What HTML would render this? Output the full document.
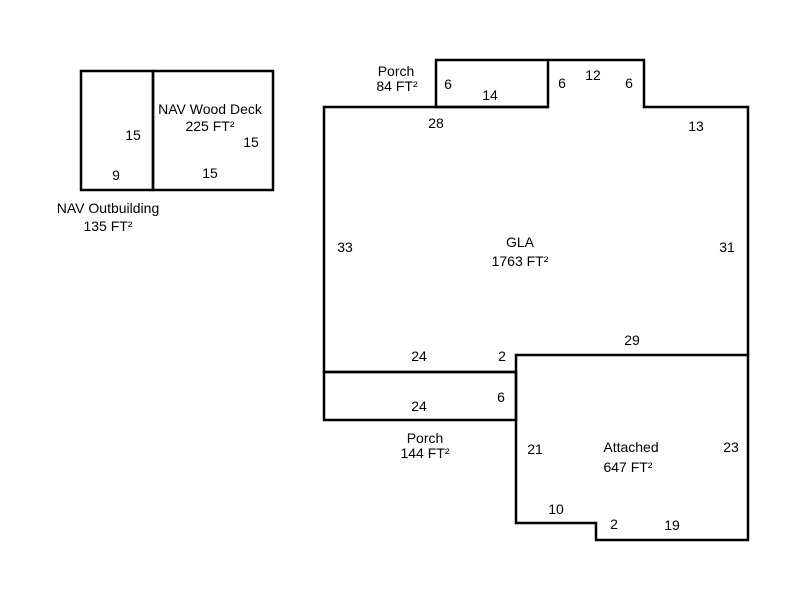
<!DOCTYPE html>
<html><head><style>html,body{margin:0;padding:0;background:#fff}</style></head>
<body>
<svg width="800" height="600" xmlns="http://www.w3.org/2000/svg" style="display:block">
<g fill="none" stroke="#000" stroke-width="2.5">
<rect x="81" y="71" width="72" height="119"/>
<rect x="153" y="71" width="120" height="119"/>
<rect x="436" y="60" width="112" height="47"/>
<polyline points="548,60 644,60 644,107 748,107 748,355"/>
<polyline points="436,107 324,107 324,372 516,372"/>
<line x1="548" y1="107" x2="436" y2="107"/>
<rect x="324" y="372" width="192" height="48"/>
<polygon points="516,355 748,355 748,540 596,540 596,523 516,523"/>
</g>
<g font-family="Liberation Sans, Arial, sans-serif" font-size="14" fill="#000" text-anchor="middle">
<text x="133" y="140">15</text>
<text x="116" y="180">9</text>
<text x="210" y="114">NAV Wood Deck</text>
<text x="210" y="131">225 FT²</text>
<text x="251" y="147">15</text>
<text x="210" y="178">15</text>
<text x="108" y="213">NAV Outbuilding</text>
<text x="108" y="231">135 FT²</text>
<text x="396" y="76">Porch</text>
<text x="397" y="91">84 FT²</text>
<text x="448" y="89">6</text>
<text x="490" y="100">14</text>
<text x="562" y="88">6</text>
<text x="593" y="80">12</text>
<text x="629" y="88">6</text>
<text x="436" y="128">28</text>
<text x="696" y="131">13</text>
<text x="345" y="252">33</text>
<text x="520" y="247">GLA</text>
<text x="520" y="266">1763 FT²</text>
<text x="727" y="252">31</text>
<text x="419" y="361">24</text>
<text x="502" y="361">2</text>
<text x="632" y="345">29</text>
<text x="419" y="411">24</text>
<text x="501" y="402">6</text>
<text x="425" y="443">Porch</text>
<text x="425" y="458">144 FT²</text>
<text x="535" y="454">21</text>
<text x="631" y="452">Attached</text>
<text x="628" y="472">647 FT²</text>
<text x="731" y="452">23</text>
<text x="556" y="514">10</text>
<text x="614" y="529">2</text>
<text x="672" y="530">19</text>
</g>
</svg>
</body></html>
